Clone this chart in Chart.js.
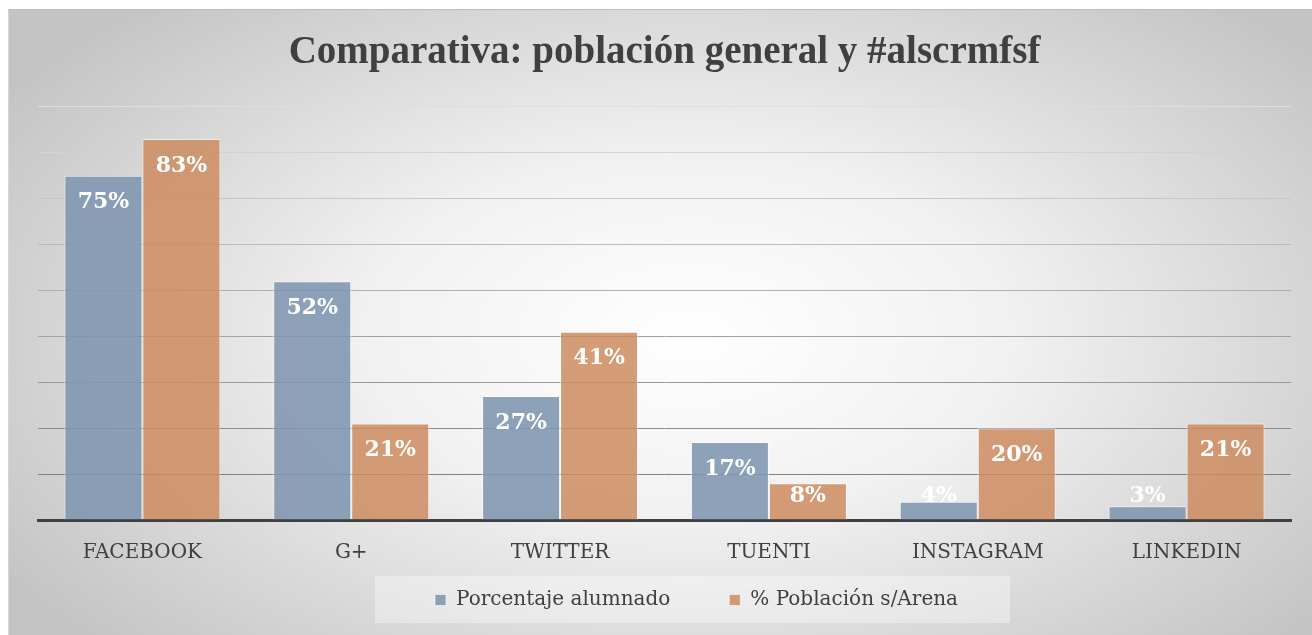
<!DOCTYPE html>
<html>
<head>
<meta charset="utf-8">
<title>Comparativa</title>
<script src="https://cdn.jsdelivr.net/npm/chart.js@4.4.0/dist/chart.umd.min.js"></script>
<style>
  html, body { margin: 0; padding: 0; background: #fff; }
  #wrap { position: relative; width: 1312px; height: 635px; overflow: hidden; }
  #bg {
    position: absolute; left: 8px; top: 9px; width: 1304px; height: 626px;
    border-top: 1px solid #bcbcbc; border-left: 1px solid #d6d6d6;
    background: radial-gradient(ellipse 62% 72% at 52% 52%, #ffffff 0%, #f1f1f1 40%, #c4c4c4 100%);
  }
  #myChart { position: absolute; left: 0; top: 0; }
</style>
</head>
<body>
<div id="wrap">
  <div id="bg"></div>
  <canvas id="myChart" width="1312" height="635"></canvas>
</div>
<script>
'use strict';
let categories = ['FACEBOOK', 'G+', 'TWITTER', 'TUENTI', 'INSTAGRAM', 'LINKEDIN'];
let alumnado = [75, 52, 27, 17, 4, 3];
let poblacion = [83, 21, 41, 8, 20, 21];
let seriesNames = ['Porcentaje alumnado', '% Población s/Arena'];
let yTicks = [0, 10, 20, 30, 40, 50, 60, 70, 80, 90];

let textColor = '#404040';

// grid lines get darker towards the base line, as in the picture
function gridColor(ctx) {
  let v = ctx.tick ? ctx.tick.value : 0;
  if (v === 0) return 'rgba(0,0,0,0)';
  let g = Math.round(128 + (v - 10) / 80 * (222 - 128));
  return 'rgb(' + g + ',' + g + ',' + g + ')';
}

let valueLabels = {
  id: 'valueLabels',
  afterDatasetsDraw(chart) {
    let ctx = chart.ctx;
    ctx.save();
    ctx.font = 'bold 22px "DejaVu Serif"';
    ctx.fillStyle = '#ffffff';
    ctx.textAlign = 'center';
    ctx.textBaseline = 'middle';
    chart.data.datasets.forEach(function (ds, i) {
      let meta = chart.getDatasetMeta(i);
      meta.data.forEach(function (bar, j) {
        let y = Math.min(bar.y + 27, bar.base - 23);
        ctx.fillText(ds.data[j] + '%', bar.x, y);
      });
    });
    ctx.restore();
  }
};

let legendBox = {
  id: 'legendBox',
  afterLayout(chart) {
    // move legend a bit right, like the original
    chart.legend.left += 32;
    chart.legend.right += 32;
    // x axis is squeezed to make room for the legend, so widen its label clip
    chart.scales.x.bottom = chart.scales.x.top + 50;
  },
  beforeDraw(chart) {
    let ctx = chart.ctx;
    ctx.save();
    ctx.fillStyle = 'rgba(255,255,255,0.35)';
    ctx.fillRect(375, 576, 635, 47);
    ctx.restore();
  }
};

let ctx = document.getElementById('myChart').getContext('2d');
let myChart = new Chart(ctx, {
  type: 'bar',
  data: {
    labels: categories,
    datasets: [{
      label: seriesNames[0],
      data: alumnado,
      backgroundColor: 'rgba(126,150,175,0.88)',
      borderColor: 'rgba(255,255,255,0.55)',
      borderWidth: 1
    }, {
      label: seriesNames[1],
      data: poblacion,
      backgroundColor: 'rgba(205,140,96,0.85)',
      borderColor: 'rgba(255,255,255,0.55)',
      borderWidth: 1
    }]
  },
  options: {
    responsive: false,
    animation: false,
    devicePixelRatio: 1,
    layout: { padding: { left: 38, right: 21, top: 0, bottom: 15 } },
    datasets: {
      bar: { categoryPercentage: 0.747, barPercentage: 1 }
    },
    scales: {
      x: {
        grid: { display: false, drawTicks: false },
        border: { display: true, color: '#404040', width: 3 },
        ticks: {
          color: textColor,
          font: { family: '"DejaVu Serif"', size: 20 },
          padding: 21,
          autoSkip: false,
          maxRotation: 0
        },
        afterFit(scale) { scale.height = 11; }
      },
      y: {
        min: 0,
        max: yTicks[yTicks.length - 1],
        afterBuildTicks(scale) {
          scale.ticks = yTicks.map(function (v) { return { value: v }; });
        },
        grid: { color: gridColor, lineWidth: 1, drawTicks: false },
        border: { display: false },
        ticks: { display: false },
        afterFit(scale) { scale.width = 0; }
      }
    },
    plugins: {
      title: {
        display: true,
        text: 'Comparativa: población general y #alscrmfsf',
        color: textColor,
        font: { family: '"Liberation Serif"', size: 39, weight: 'bold' },
        padding: { top: 30, bottom: 30 }
      },
      legend: {
        position: 'bottom',
        labels: {
          color: textColor,
          font: { family: '"DejaVu Serif"', size: 20 },
          boxWidth: 11,
          boxHeight: 11,
          padding: 59
        }
      },
      tooltip: { enabled: false }
    }
  },
  plugins: [valueLabels, legendBox]
});
</script>
</body>
</html>
